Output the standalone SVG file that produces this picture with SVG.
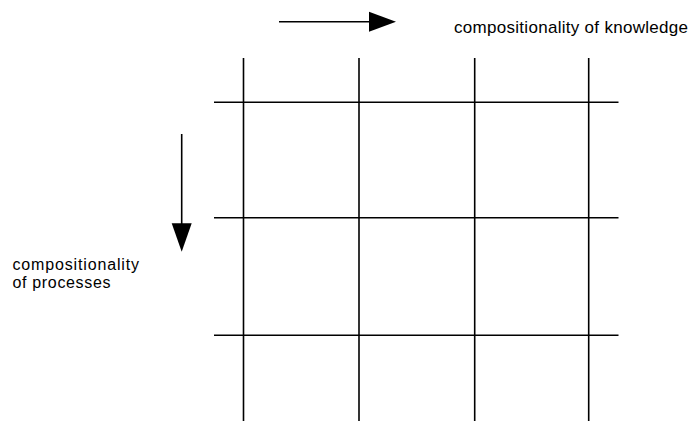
<svg xmlns="http://www.w3.org/2000/svg" width="689" height="421" viewBox="0 0 689 421">
<style>
.g{stroke:#000;stroke-width:1.6;fill:none}
.a{stroke:#000;stroke-width:1.6;fill:none}
.t{font-family:"Liberation Sans",Arial,sans-serif;font-size:17px;fill:#000}
.s{font-family:"Liberation Sans",Arial,sans-serif;font-size:16px;fill:#000}
</style>
<rect width="689" height="421" fill="#fff"/>
<g id="grid">
<line class="g" x1="243.5" y1="58" x2="243.5" y2="421"/>
<line class="g" x1="359" y1="58" x2="359" y2="421"/>
<line class="g" x1="474.7" y1="58" x2="474.7" y2="421"/>
<line class="g" x1="588.7" y1="58" x2="588.7" y2="421"/>
<line class="g" x1="214" y1="102.3" x2="618.5" y2="102.3"/>
<line class="g" x1="214" y1="217.7" x2="618.5" y2="217.7"/>
<line class="g" x1="214" y1="335.3" x2="618.5" y2="335.3"/>
</g>
<g id="connectors">
<g id="arrow-knowledge">
<line class="a" x1="279" y1="21.7" x2="370" y2="21.7"/>
<polygon points="369,11.7 396,21.7 369,31.7" fill="#000"/>
</g>
<g id="arrow-processes">
<line class="a" x1="181.7" y1="134" x2="181.7" y2="224"/>
<polygon points="171.7,223.3 191.7,223.3 181.7,251.7" fill="#000"/>
</g>
</g>
<g id="label-knowledge">
<text class="t" x="454" y="33" textLength="234">compositionality of knowledge</text>
</g>
<g id="label-processes">
<text class="s" x="12.5" y="269.5" textLength="126.5">compositionality</text>
<text class="s" x="12.5" y="288" textLength="98">of processes</text>
</g>
</svg>
